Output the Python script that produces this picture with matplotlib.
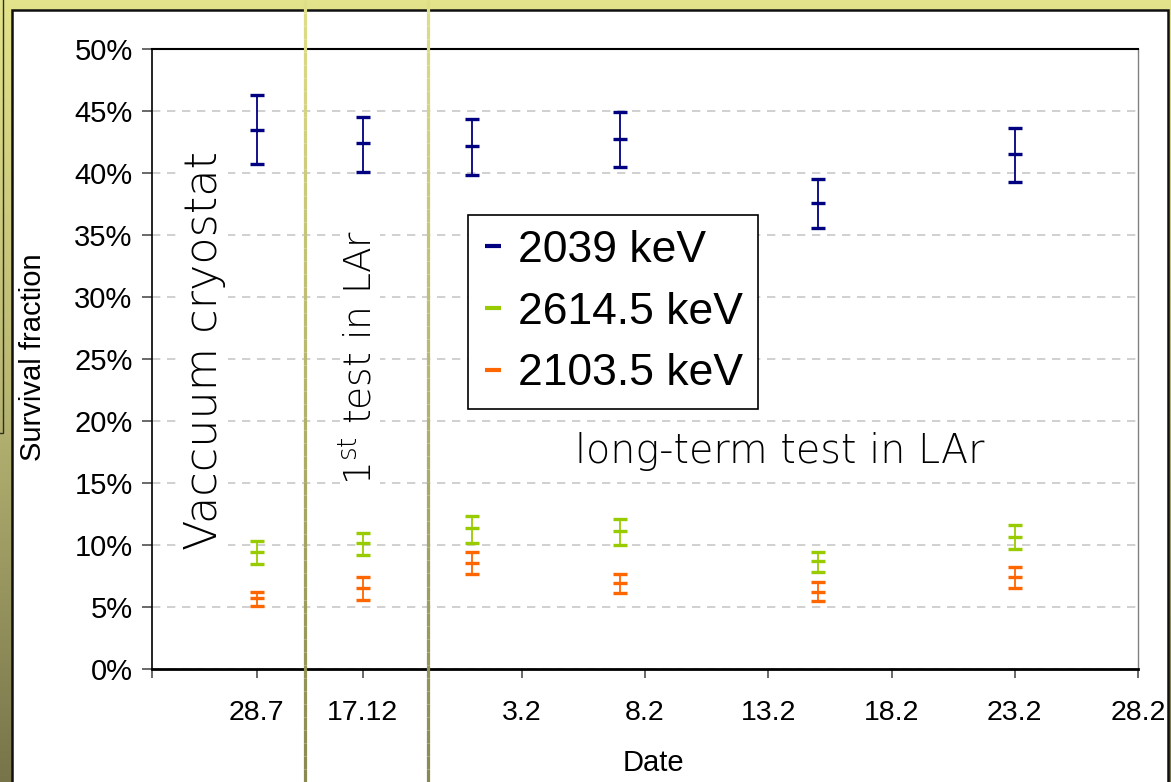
import numpy as np
import matplotlib
matplotlib.use("Agg")
import matplotlib.pyplot as plt
from matplotlib.collections import LineCollection
from matplotlib.patches import Rectangle
from matplotlib.lines import Line2D
from matplotlib.colors import LinearSegmentedColormap

# x axis in days relative to 3.2 (first part of the axis is compressed)
tick_pos = [-15, -10.75, -6.45, 0, 5, 10, 15, 20, 25]
tick_labels = ["", "28.7", "17.12", "3.2", "8.2", "13.2", "18.2", "23.2", "28.2"]
x_days = [-10.75, -6.45, -2, 4, 12, 20]

# survival fraction in percent: centre, lower and upper end of the error bar
blue = [43.5, 42.4, 42.15, 42.75, 37.6, 41.55]
blue_lo = [40.7, 40.1, 39.85, 40.45, 35.55, 39.25]
blue_hi = [46.3, 44.5, 44.35, 44.9, 39.5, 43.6]

green = [9.45, 10.2, 11.35, 11.15, 8.7, 10.65]
green_lo = [8.45, 9.2, 10.2, 10.0, 7.8, 9.65]
green_hi = [10.35, 11.0, 12.35, 12.1, 9.45, 11.65]

orange = [5.75, 6.55, 8.55, 6.95, 6.25, 7.4]
orange_lo = [5.1, 5.55, 7.65, 6.15, 5.5, 6.55]
orange_hi = [6.25, 7.45, 9.4, 7.7, 7.0, 8.25]

series = [
    ("2039 keV", "#000080", blue, blue_lo, blue_hi),
    ("2614.5 keV", "#99cc00", green, green_lo, green_hi),
    ("2103.5 keV", "#ff6600", orange, orange_lo, orange_hi),
]

W, H = 1171, 782
fig = plt.figure(figsize=(W / 100, H / 100), dpi=100)


def fx(px):
    return px / W


def fy(py):
    return 1 - py / H


# slide background: yellow to olive gradient
bg = fig.add_axes([0, 0, 1, 1], zorder=-10)
bg_cmap = LinearSegmentedColormap.from_list("bg", ["#e3e38b", "#b9b774", "#77744a"])
bg.imshow(np.linspace(0, 1, 256).reshape(-1, 1), aspect="auto", cmap=bg_cmap,
          extent=[0, 1, 0, 1], origin="upper")
bg.set_xlim(0, 1)
bg.set_ylim(0, 1)
bg.axis("off")
# white panel with dark border
bg.add_patch(Rectangle((fx(12), -0.1), fx(1168) - fx(12), fy(10) + 0.1,
                       facecolor="white", edgecolor="#101010", lw=1.8))
bg.add_patch(Rectangle((-0.01, fy(433)), fx(3) + 0.01, 0.1 + 433 / H,
                       facecolor="none", edgecolor="#303020", lw=1.0))

ax = fig.add_axes([fx(152), fy(669), fx(1138) - fx(152), fy(49) - fy(669)])
ax.set_xlim(tick_pos[0], tick_pos[-1])
ax.set_ylim(0, 50)

handles = []
for label, color, y, lo, hi in series:
    y = np.array(y)
    yerr = [y - np.array(lo), np.array(hi) - y]
    ax.errorbar(x_days, y, yerr=yerr, fmt="_", color=color, ms=9.5, mew=2.4,
                elinewidth=1.3, capsize=4.8, capthick=1.3, zorder=5)
    handles.append(Line2D([], [], ls="none", marker="_", color=color, ms=12, mew=3,
                          label=label))

ax.set_yticks(np.arange(0, 51, 5))
ax.set_yticklabels([f"{v}%" for v in range(0, 51, 5)])
ax.set_xticks(tick_pos)
ax.set_xticklabels(tick_labels)
ax.grid(axis="y", color="#c8c8c8", lw=1.2, ls=(0, (5, 4)), zorder=0)
ax.set_axisbelow(True)

ax.tick_params(axis="y", direction="out", length=7, width=1.1, color="#404040",
               pad=7, labelsize=21)
ax.tick_params(axis="x", direction="out", length=6.5, width=1.1, color="#404040",
               pad=15.5, labelsize=20.5)
for t in ax.get_xticklabels() + ax.get_yticklabels():
    t.set_fontfamily("Liberation Sans")

ax.spines["top"].set_linewidth(1.5)
ax.spines["left"].set_linewidth(1.2)
ax.spines["bottom"].set_linewidth(2.0)
ax.spines["right"].set_color("#808080")
ax.spines["right"].set_linewidth(1.0)

leg = ax.legend(handles=handles, loc="upper left",
                bbox_to_anchor=((468 - 152) / 986, (669 - 215) / 620),
                prop={"family": "Liberation Sans", "size": 32}, frameon=True,
                fancybox=False, edgecolor="#000000", framealpha=1,
                handlelength=0.45, handletextpad=0.35, labelspacing=0.47,
                borderpad=0.33, borderaxespad=0)
leg.get_frame().set_linewidth(1.2)

# annotations on the plot
box = dict(facecolor="white", edgecolor="none", pad=1)
fig.text(fx(205), fy(350), "Vaccuum cryostat", rotation=90, fontsize=32,
         family="DejaVu Sans", weight="light", ha="center", va="center", bbox=box)
plt.rcParams["mathtext.fontset"] = "custom"
plt.rcParams["mathtext.rm"] = "DejaVu Sans:light"
fig.text(fx(360), fy(357), r"1$^{\mathrm{st}}$ test in LAr", rotation=90, fontsize=27,
         family="DejaVu Sans", weight="light", ha="center", va="center", bbox=box)
fig.text(fx(780), fy(452), "long-term test in LAr", fontsize=28.5,
         family="DejaVu Sans", weight="light", ha="center", va="center")

fig.text(fx(33), fy(357), "Survival fraction", rotation=90, fontsize=21,
         family="Liberation Sans", ha="center", va="center")
fig.text(fx(653), fy(763), "Date", fontsize=21, family="Liberation Sans",
         ha="center", va="center")

# slide divider lines running over the whole picture
ny = 60
ys = np.linspace(1, 0, ny + 1)
line_cmap = LinearSegmentedColormap.from_list("ln", ["#dede88", "#8a8951"])
for xp in [305, 428]:
    segs = [[(fx(xp), ys[i]), (fx(xp), ys[i + 1])] for i in range(ny)]
    lc = LineCollection(segs, colors=line_cmap(np.linspace(0, 1, ny)), lw=2.3,
                        transform=fig.transFigure, zorder=20)
    fig.add_artist(lc)

fig.savefig("out.png", dpi=100)
